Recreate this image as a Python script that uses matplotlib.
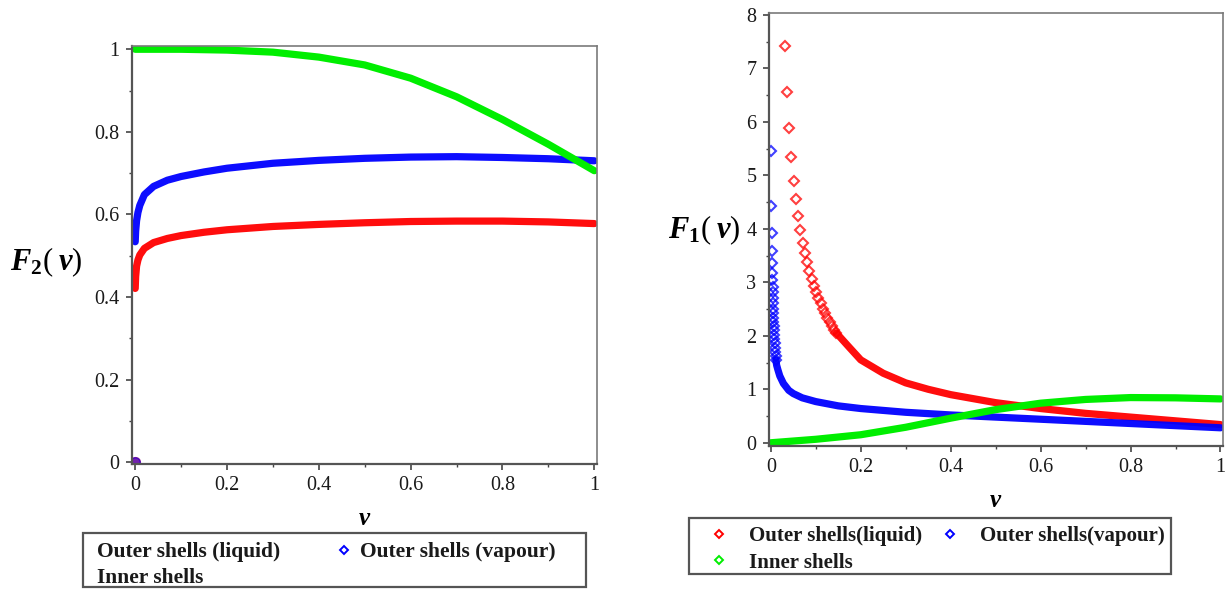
import matplotlib
matplotlib.use("Agg")
import matplotlib.pyplot as plt
from matplotlib.lines import Line2D
from matplotlib.patches import Rectangle
from matplotlib.ticker import MultipleLocator

plt.rcParams["font.family"] = ["Liberation Serif", "DejaVu Serif"]
plt.rcParams["mathtext.fontset"] = "custom"
plt.rcParams["mathtext.rm"] = "Liberation Serif"
plt.rcParams["mathtext.it"] = "Liberation Serif:italic"
plt.rcParams["mathtext.bf"] = "Liberation Serif:bold"
plt.rcParams["mathtext.bfit"] = "Liberation Serif:italic:bold"

# ---------------- data: F2(v) ----------------
f2_origin_v = [0.0]
f2_origin_F = [0.0]

f2_red_v = [0.0, 0.001, 0.003, 0.006, 0.01, 0.02, 0.04, 0.07, 0.1, 0.15, 0.2,
            0.3, 0.4, 0.5, 0.6, 0.7, 0.8, 0.9, 1.0]
f2_red_F = [0.421, 0.45, 0.475, 0.49, 0.502, 0.518, 0.532, 0.542, 0.549, 0.557,
            0.563, 0.571, 0.576, 0.580, 0.583, 0.584, 0.584, 0.582, 0.578]

f2_blue_v = [0.0, 0.001, 0.003, 0.006, 0.01, 0.02, 0.04, 0.07, 0.1, 0.15, 0.2,
             0.3, 0.4, 0.5, 0.6, 0.7, 0.8, 0.9, 1.0]
f2_blue_F = [0.534, 0.56, 0.585, 0.605, 0.622, 0.648, 0.668, 0.683, 0.692, 0.703,
             0.712, 0.724, 0.731, 0.736, 0.739, 0.740, 0.738, 0.735, 0.730]

f2_green_v = [0.0, 0.1, 0.2, 0.3, 0.4, 0.5, 0.6, 0.7, 0.8, 0.9, 1.0]
f2_green_F = [1.0, 1.0, 0.998, 0.993, 0.981, 0.962, 0.93, 0.885, 0.83, 0.77, 0.706]

# ---------------- data: F1(v) ----------------
# separate sample points near the singular end
f1_red_pts_v = [0.031, 0.036, 0.041, 0.046, 0.051, 0.056, 0.061, 0.066, 0.071, 0.076,
                0.081, 0.086, 0.091, 0.096, 0.101, 0.106, 0.111, 0.116, 0.121, 0.126,
                0.131, 0.136, 0.141, 0.146]
f1_red_pts_F = [7.41, 6.56, 5.88, 5.34, 4.90, 4.56, 4.24, 3.97, 3.74, 3.55,
                3.37, 3.22, 3.07, 2.94, 2.82, 2.71, 2.61, 2.51, 2.42, 2.34,
                2.26, 2.18, 2.11, 2.05]
f1_red_v = [0.146, 0.175, 0.2, 0.25, 0.3, 0.35, 0.4, 0.5, 0.6, 0.7, 0.8, 0.9, 1.0]
f1_red_F = [2.05, 1.78, 1.55, 1.30, 1.12, 1.00, 0.90, 0.75, 0.64, 0.55, 0.48, 0.41, 0.34]

f1_blue_pts_v = [0.0010, 0.0015, 0.0020, 0.0025, 0.0030, 0.0033, 0.0036, 0.0039,
                 0.0042, 0.0045, 0.0048, 0.0051, 0.0054, 0.0057, 0.0060, 0.0064,
                 0.0068, 0.0073, 0.0078, 0.0084, 0.0090, 0.0097, 0.0105, 0.0114]
f1_blue_pts_F = [5.46, 4.43, 3.92, 3.59, 3.36, 3.18, 3.04, 2.92,
                 2.81, 2.70, 2.61, 2.51, 2.42, 2.34, 2.26, 2.18,
                 2.10, 2.02, 1.94, 1.86, 1.78, 1.70, 1.62, 1.55]
f1_blue_v = [0.0114, 0.013, 0.016, 0.02, 0.028, 0.04, 0.05, 0.07, 0.1, 0.15, 0.2,
             0.3, 0.4, 0.5, 0.6, 0.7, 0.8, 0.9, 1.0]
f1_blue_F = [1.55, 1.45, 1.36, 1.25, 1.11, 0.98, 0.92, 0.84, 0.77, 0.69, 0.64,
             0.57, 0.52, 0.48, 0.44, 0.40, 0.36, 0.32, 0.28]

f1_green_v = [0.0, 0.1, 0.2, 0.3, 0.4, 0.5, 0.6, 0.7, 0.8, 0.9, 1.0]
f1_green_F = [0.0, 0.065, 0.15, 0.29, 0.46, 0.62, 0.74, 0.81, 0.845, 0.84, 0.82]

labels_left = ["Outer shells (liquid)", "Outer shells (vapour)", "Inner shells"]
labels_right = ["Outer shells(liquid)", "Outer shells(vapour)", "Inner shells"]

RED, BLUE, GREEN = "#ff0000", "#0000ff", "#00ee00"
BAND = 5.2
TXT = "#1a1a1a"
FRAME = "#555555"

fig = plt.figure(figsize=(12.29, 5.90), dpi=100)
axL = fig.add_axes([0.1074, 0.2136, 0.3784, 0.7085])
axR = fig.add_axes([0.6257, 0.2441, 0.3692, 0.7344])


def style_axes(ax, ymajor, yminor):
    for side in ("top", "right"):
        ax.spines[side].set_color("#7a7a7a")
        ax.spines[side].set_linewidth(1.2)
    for side in ("left", "bottom"):
        ax.spines[side].set_color("#555555")
        ax.spines[side].set_linewidth(1.6)
    ax.xaxis.set_major_locator(MultipleLocator(0.2))
    ax.xaxis.set_minor_locator(MultipleLocator(0.1))
    ax.yaxis.set_major_locator(MultipleLocator(ymajor))
    ax.yaxis.set_minor_locator(MultipleLocator(yminor))
    ax.tick_params(which="both", direction="out", color="#444444", top=False,
                   right=False, labelsize=14.5, labelcolor=TXT)
    ax.tick_params(which="major", length=4, width=1.2, pad=5)
    ax.tick_params(which="minor", length=2.5, width=1.0)


def fmt(x, pos=None):
    s = f"{x:.1f}"
    if s.endswith(".0"):
        s = s[:-2]
    return s


# ---------- left panel ----------
axL.plot(f2_red_v, f2_red_F, color=RED, lw=BAND, solid_capstyle="round", alpha=0.95)
axL.plot(f2_blue_v, f2_blue_F, color=BLUE, lw=BAND, solid_capstyle="round", alpha=0.95)
axL.plot(f2_green_v, f2_green_F, color=GREEN, lw=BAND, solid_capstyle="round")
axL.plot(f2_origin_v, f2_origin_F, "o", color=RED, ms=7, alpha=0.7)
axL.plot(f2_origin_v, f2_origin_F, "o", color=BLUE, ms=7, alpha=0.55)
axL.set_xlim(-0.007, 1.006)
axL.set_ylim(-0.004, 1.008)
style_axes(axL, 0.2, 0.1)
axL.xaxis.set_major_formatter(fmt)
axL.yaxis.set_major_formatter(fmt)
axL.set_xlabel(r"$\mathbfit{v}$", fontsize=18, labelpad=9)
fig.text(0.038, 0.556, r"$\mathbfit{F}_{\mathbf{2}}\mathrm{(}\;\mathbfit{v}\mathrm{)}$",
         fontsize=22, ha="center", va="center")

# ---------- right panel ----------
mk = dict(ls="none", marker="D", ms=4.8, mfc="none", mew=1.5)
axR.plot(f1_red_v, f1_red_F, color=RED, lw=BAND, solid_capstyle="round", alpha=0.95)
axR.plot(f1_red_pts_v, f1_red_pts_F, color=RED, alpha=0.75, **mk)
axR.plot(f1_blue_v, f1_blue_F, color=BLUE, lw=BAND, solid_capstyle="round", alpha=0.95)
axR.plot(f1_blue_pts_v, f1_blue_pts_F, color=BLUE, alpha=0.75, **mk)
axR.plot(f1_green_v, f1_green_F, color=GREEN, lw=BAND, solid_capstyle="round")
axR.set_xlim(-0.004, 1.005)
axR.set_ylim(-0.06, 8.04)
style_axes(axR, 1, 0.5)
axR.xaxis.set_major_formatter(fmt)
axR.yaxis.set_major_formatter(fmt)
axR.set_xlabel(r"$\mathbfit{v}$", fontsize=18, labelpad=9)
fig.text(0.573, 0.61, r"$\mathbfit{F}_{\mathbf{1}}\mathrm{(}\;\mathbfit{v}\mathrm{)}$",
         fontsize=22, ha="center", va="center")


# ---------- legends ----------
def handle(c, visible=True):
    return Line2D([], [], color=c, ls="none", marker="D", ms=3.8, mfc="none",
                  mew=1.4, alpha=1.0 if visible else 0.0)


def add_legend(labels, box, size, show_first_col, **kw):
    hs = [handle(RED, show_first_col), handle(GREEN, show_first_col), handle(BLUE)]
    ls = [labels[0], labels[2], labels[1]]
    leg = fig.legend(hs, ls, ncol=2, loc="upper left", bbox_to_anchor=box,
                     bbox_transform=fig.transFigure, frameon=False, borderaxespad=0.0,
                     prop={"family": "Liberation Serif", "weight": "bold", "size": size},
                     **kw)
    for t in leg.get_texts():
        t.set_color(TXT)
    return leg


def add_frame(x, y, w, h):
    fig.patches.append(Rectangle((x, y), w, h, transform=fig.transFigure,
                                 fill=False, edgecolor=FRAME, linewidth=1.6))


add_legend(labels_left, (0.05427, 0.0, 0.4, 0.0881), 15.5, False,
           borderpad=0.2, labelspacing=0.27, handlelength=1.0, handletextpad=0.2,
           columnspacing=2.49)
add_frame(0.06753, 0.00508, 0.40928, 0.09153)

add_legend(labels_right, (0.56119, 0.0, 0.39178, 0.1186), 15.0, True,
           mode="expand", borderpad=0.3, labelspacing=0.3, handlelength=2.2,
           handletextpad=0.35, columnspacing=1.0)
add_frame(0.56062, 0.02712, 0.39219, 0.09492)

fig.savefig("out.png", dpi=100, facecolor="white")
